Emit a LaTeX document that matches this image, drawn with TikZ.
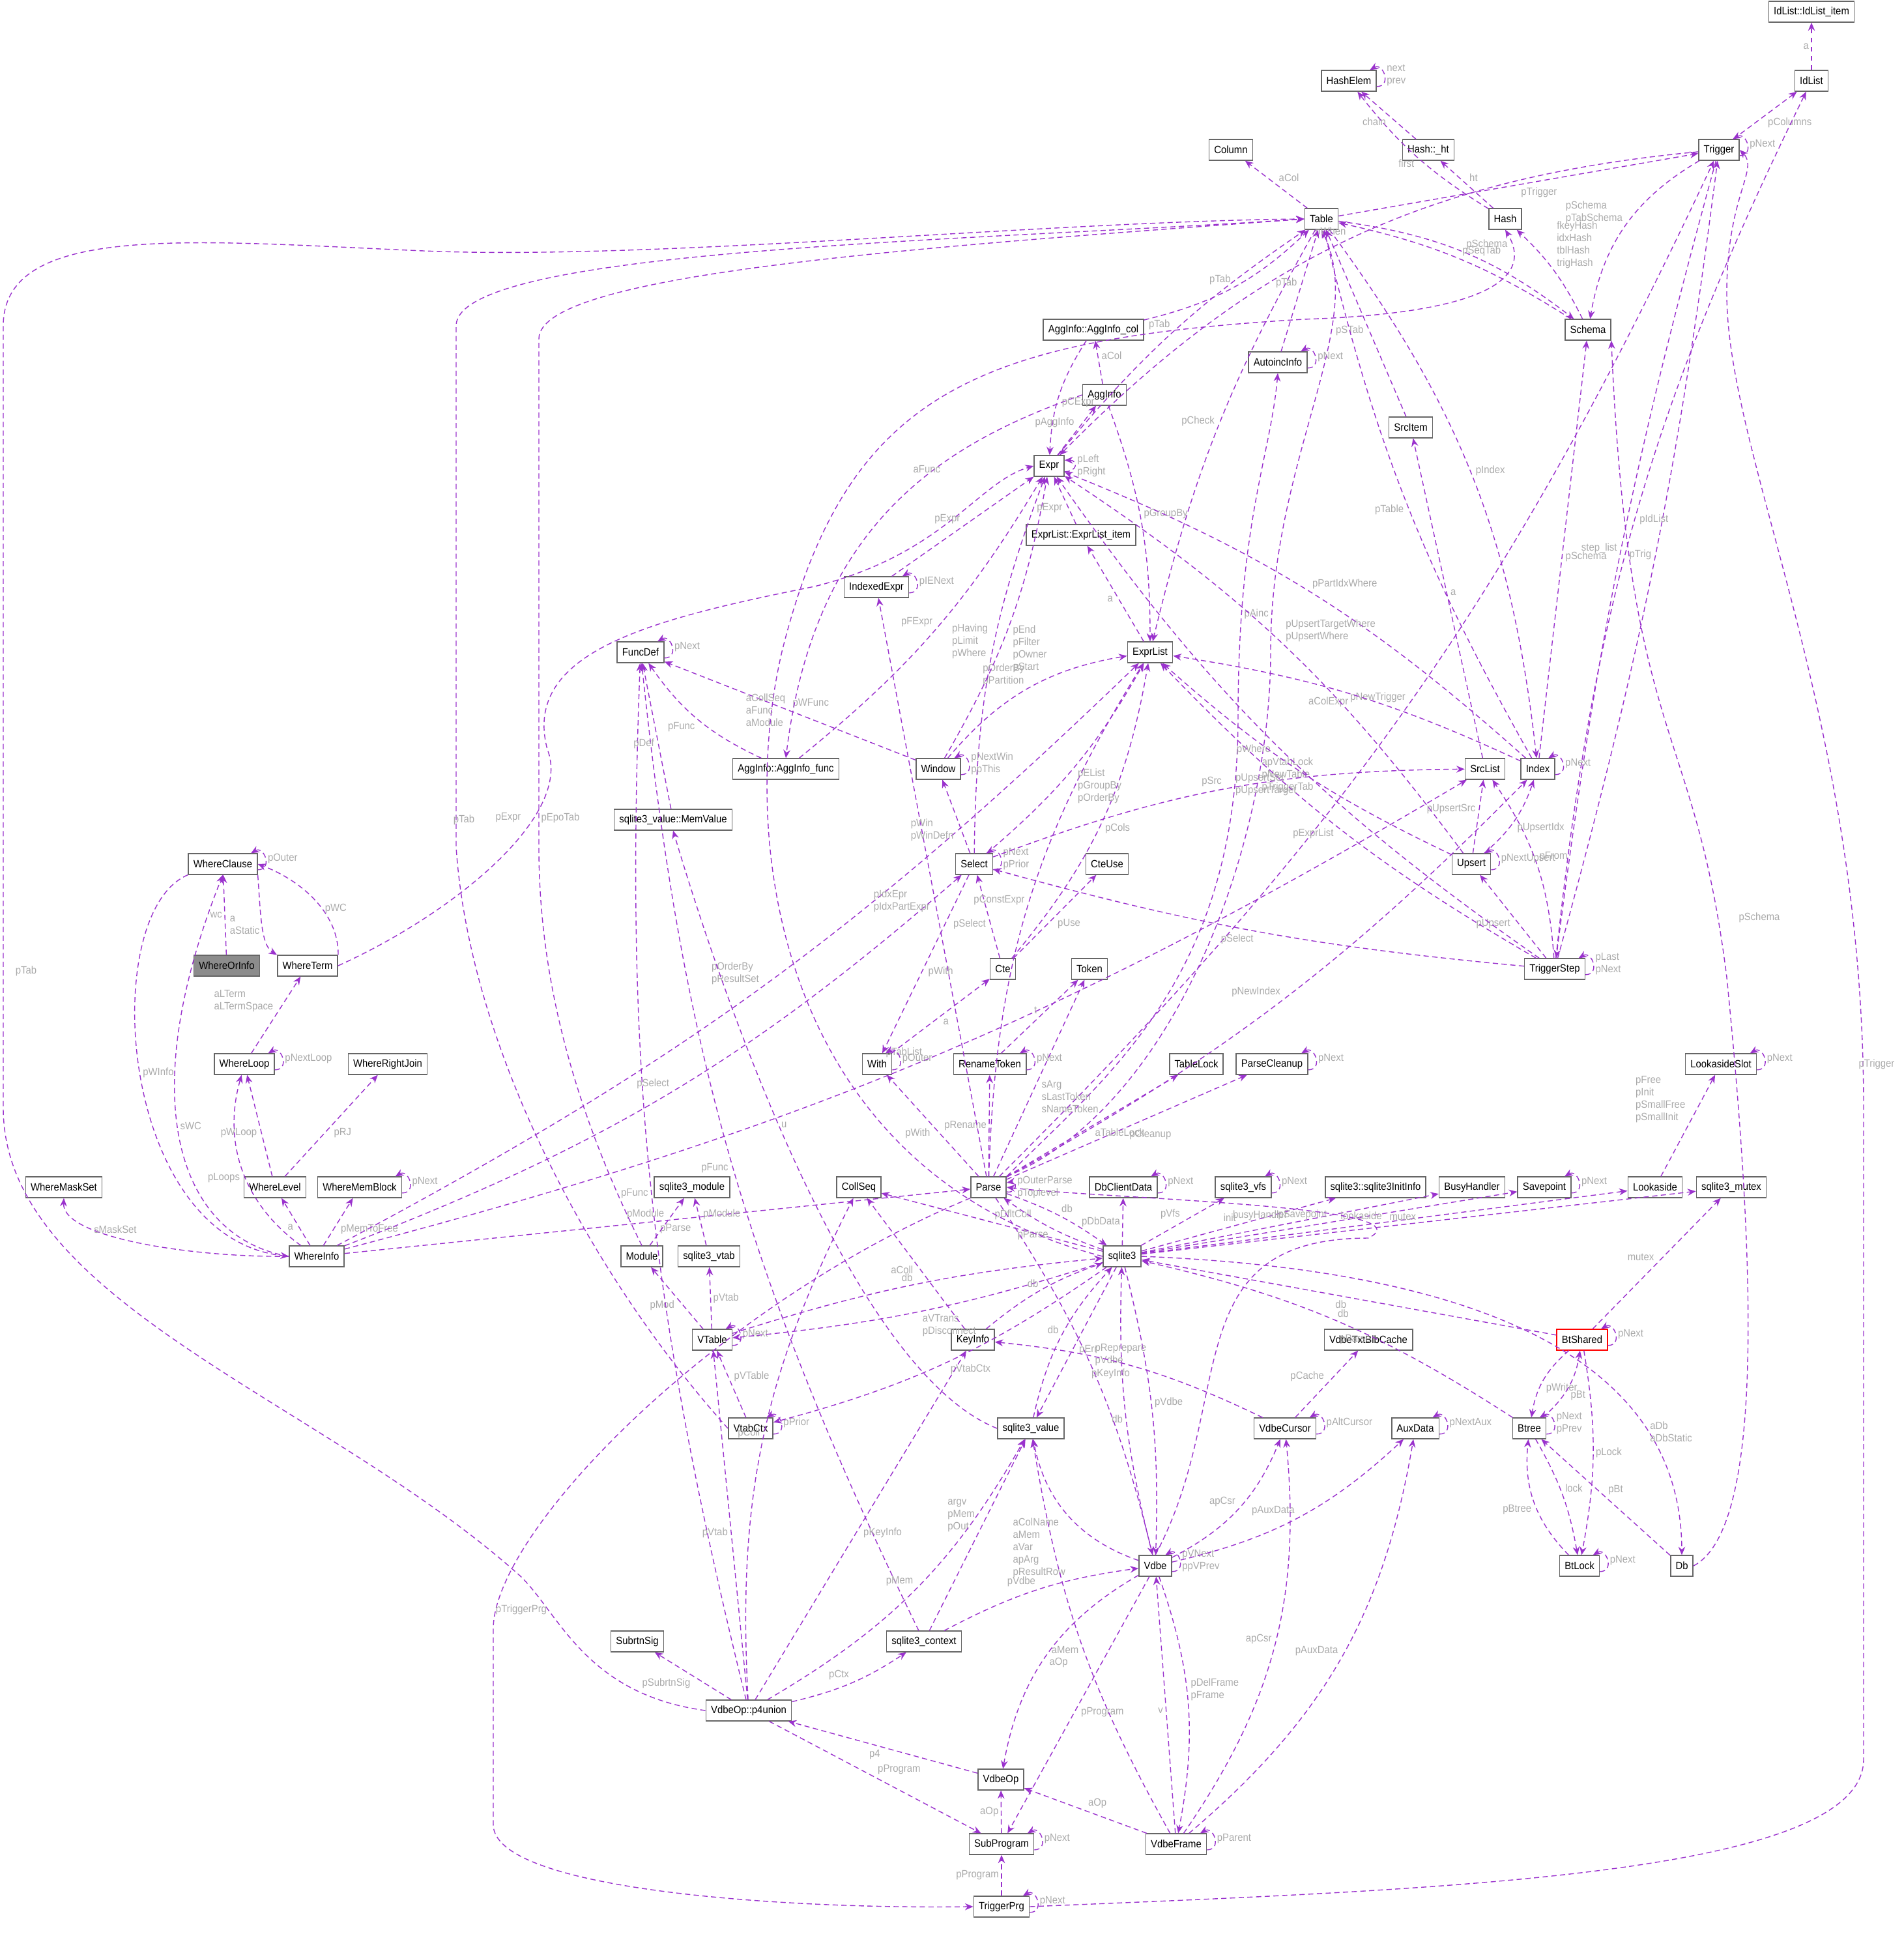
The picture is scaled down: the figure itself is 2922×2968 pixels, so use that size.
\documentclass[tikz,border=0pt]{standalone}
\usepackage{fontspec}
\setmainfont[FakeStretch=0.92]{Liberation Sans}
\usetikzlibrary{arrows.meta}
\definecolor{dc}{RGB}{154,50,205}
\definecolor{lc}{RGB}{170,170,170}
\newcommand\nf{\fontsize{4.6}{5.4}\selectfont}
\tikzset{
 n/.style={draw=black!60,line width=0.45pt,fill=white,font=\nf,inner xsep=2.2pt,inner ysep=0pt,minimum height=9pt},
 e/.style={draw=dc,line width=0.4pt,dash pattern=on 2.3pt off 1.5pt,-{Stealth[length=3.6pt,width=3pt]}},
 l/.style={font=\nf,text=lc,inner sep=1pt,align=left}
}
\newcommand\E[4][]{\draw[e,#1] (#2) to node[l,auto,pos=0.5]{#4} (#3);}
\newcommand\SL[2]{\draw[e] ([yshift=-2.5pt]#1.east) to[out=0,in=30,looseness=2.2] node[l,right]{#2} ([xshift=-3pt]#1.north east);}
\begin{document}
\begin{tikzpicture}[x=0.01cm,y=-0.01cm]
\useasboundingbox (0,0) rectangle (2922,2968);
% nodes
\node[n] (iii) at (2780,18) {IdList::IdList\_item};
\node[n] (IdList) at (2780,124) {IdList};
\node[n] (HashElem) at (2070,124) {HashElem};
\node[n] (hht) at (2192,230) {Hash::\_ht};
\node[n] (Column) at (1889,230) {Column};
\node[n] (Trigger) at (2638,230) {Trigger};
\node[n] (Table) at (2028,336) {Table};
\node[n] (Hash) at (2310,336) {Hash};
\node[n] (Schema) at (2437,506) {Schema};
\node[n] (aic) at (1678,506) {AggInfo::AggInfo\_col};
\node[n] (Autoinc) at (1961,556) {AutoincInfo};
\node[n] (AggInfo) at (1695,606) {AggInfo};
\node[n] (SrcItem) at (2165,656) {SrcItem};
\node[n] (Expr) at (1610,715) {Expr};
\node[n] (eli) at (1659,821) {ExprList::ExprList\_item};
\node[n] (IndexedExpr) at (1345,901) {IndexedExpr};
\node[n] (FuncDef) at (983,1001) {FuncDef};
\node[n] (ExprList) at (1765,1001) {ExprList};
\node[n] (Window) at (1440,1180) {Window};
\node[n] (aif) at (1206,1180) {AggInfo::AggInfo\_func};
\node[n] (SrcList) at (2279,1180) {SrcList};
\node[n] (Index) at (2360,1180) {Index};
\node[n] (mv) at (1033,1258) {sqlite3\_value::MemValue};
\node[n] (Select) at (1495,1326) {Select};
\node[n] (Upsert) at (2258,1326) {Upsert};
\node[n] (WhereClause) at (342,1326) {WhereClause};
\node[n] (CteUse) at (1699,1326) {CteUse};
\node[n,fill=black!45] (WhereOrInfo) at (348,1482) {WhereOrInfo};
\node[n] (WhereTerm) at (472,1482) {WhereTerm};
\node[n] (Cte) at (1539,1487) {Cte};
\node[n] (Token) at (1672,1487) {Token};
\node[n] (TriggerStep) at (2386,1487) {TriggerStep};
\node[n] (WhereLoop) at (375,1633) {WhereLoop};
\node[n] (WhereRightJoin) at (595,1633) {WhereRightJoin};
\node[n] (With) at (1346,1633) {With};
\node[n] (RenameToken) at (1519,1633) {RenameToken};
\node[n] (TableLock) at (1836,1633) {TableLock};
\node[n] (ParseCleanup) at (1952,1633) {ParseCleanup};
\node[n] (LookasideSlot) at (2641,1633) {LookasideSlot};
\node[n] (WhereMaskSet) at (98,1822) {WhereMaskSet};
\node[n] (WhereLevel) at (422,1822) {WhereLevel};
\node[n] (WhereMemBlock) at (552,1822) {WhereMemBlock};
\node[n] (smod) at (1062,1822) {sqlite3\_module};
\node[n] (CollSeq) at (1318,1822) {CollSeq};
\node[n] (Parse) at (1517,1822) {Parse};
\node[n] (DbClientData) at (1724,1822) {DbClientData};
\node[n] (vfs) at (1908,1822) {sqlite3\_vfs};
\node[n] (ii) at (2111,1822) {sqlite3::sqlite3InitInfo};
\node[n] (BusyHandler) at (2259,1822) {BusyHandler};
\node[n] (Savepoint) at (2370,1822) {Savepoint};
\node[n] (Lookaside) at (2540,1822) {Lookaside};
\node[n] (mutex) at (2657,1822) {sqlite3\_mutex};
\node[n] (WhereInfo) at (486,1928) {WhereInfo};
\node[n] (Module) at (985,1928) {Module};
\node[n] (svtab) at (1088,1928) {sqlite3\_vtab};
\node[n] (sqlite3) at (1722,1928) {sqlite3};
\node[n] (VTable) at (1093,2056) {VTable};
\node[n] (KeyInfo) at (1493,2056) {KeyInfo};
\node[n] (vtbc) at (2100,2056) {VdbeTxtBlbCache};
\node[n,draw=red] (BtShared) at (2428,2056) {BtShared};
\node[n] (VtabCtx) at (1152,2192) {VtabCtx};
\node[n] (svalue) at (1582,2192) {sqlite3\_value};
\node[n] (VdbeCursor) at (1972,2192) {VdbeCursor};
\node[n] (AuxData) at (2172,2192) {AuxData};
\node[n] (Btree) at (2347,2192) {Btree};
\node[n] (Vdbe) at (1773,2403) {Vdbe};
\node[n] (BtLock) at (2424,2403) {BtLock};
\node[n] (Db) at (2581,2403) {Db};
\node[n] (SubrtnSig) at (978,2519) {SubrtnSig};
\node[n] (sctx) at (1418,2519) {sqlite3\_context};
\node[n] (p4) at (1149,2625) {VdbeOp::p4union};
\node[n] (VdbeOp) at (1536,2731) {VdbeOp};
\node[n] (SubProgram) at (1537,2830) {SubProgram};
\node[n] (VdbeFrame) at (1805,2830) {VdbeFrame};
\node[n] (TriggerPrg) at (1537,2926) {TriggerPrg};
% edges
\E{WhereOrInfo}{WhereClause}{wc}
\SL{WhereClause}{pOuter}
\draw[e] (WhereClause.south east) .. controls (400,1400) and (400,1450) .. node[l,left,pos=0.5]{a\\aStatic} (WhereTerm.north west);
\draw[e] (WhereTerm.north east) .. controls (520,1400) and (460,1350) .. node[l,right,pos=0.4]{pWC} (WhereClause.east);
\draw[e] (WhereTerm.east) .. controls (700,1400) and (880,1250) .. (840,1150) .. controls (800,1000) and (1000,950) .. (1250,900) .. controls (1450,850) and (1500,740) .. (Expr.west);
\node[l] (lx1) at (780,1255) {pExpr};
\E{WhereLoop}{WhereTerm}{aLTerm\\aLTermSpace}
\SL{WhereLoop}{pNextLoop}
\E{WhereLevel}{WhereLoop}{pWLoop}
\E[swap]{WhereLevel}{WhereRightJoin}{pRJ}
\E[bend left=35]{WhereInfo}{WhereLoop}{pLoops}
\E{WhereInfo}{WhereLevel}{a}
\E[swap]{WhereInfo}{WhereMemBlock}{pMemToFree}
\SL{WhereMemBlock}{pNext}
\draw[e] (WhereInfo.west) .. controls (300,1930) and (95,1900) .. node[l,above,pos=0.6]{sMaskSet} (WhereMaskSet.south);
\draw[e] (WhereInfo.west) .. controls (280,1900) and (200,1700) .. node[l,right,pos=0.55]{sWC} (WhereClause.south);
\draw[e] (WhereClause.south west) .. controls (150,1400) and (180,1900) .. node[l,right,pos=0.5]{pWInfo} (WhereInfo.west);
\E[swap]{WhereInfo}{Parse}{pParse}
\E[bend right=10]{WhereInfo}{Select}{pSelect}
\E[bend right=8]{WhereInfo}{ExprList}{pOrderBy\\pResultSet}
\E[bend right=8]{WhereInfo}{SrcList}{pTabList}
\E{Module}{smod}{pModule}
\E[swap]{svtab}{smod}{pModule}
\draw[e] (Module.north) .. controls (880,1700) and (827,1500) .. (827,1300) -- (827,520) .. controls (827,420) and (1400,380) .. (Table.west);
\node[l] (lx2) at (860,1255) {pEpoTab};
\E{VTable}{Module}{pMod}
\E[swap]{VTable}{svtab}{pVtab}
\SL{VTable}{pNext}
\E[bend left=6]{VTable}{sqlite3}{db}
\E[swap]{VtabCtx}{VTable}{pVTable}
\SL{VtabCtx}{pPrior}
\draw[e] (VtabCtx.west) .. controls (900,1950) and (720,1600) .. (700,1300) -- (700,500) .. controls (700,380) and (1500,370) .. (Table.west);
\node[l] (lx3) at (712,1258) {pTab};
\E[bend left=6]{sqlite3}{VTable}{aVTrans\\pDisconnect}
\E[bend left=10]{sqlite3}{VtabCtx}{pVtabCtx}
\E[swap]{sqlite3}{CollSeq}{pDfltColl}
\E{KeyInfo}{CollSeq}{aColl}
\E[bend left=10]{KeyInfo}{sqlite3}{db}
\E[bend left=8]{sqlite3}{Parse}{pParse}
\E[bend left=8]{Parse}{sqlite3}{db}
\E{sqlite3}{DbClientData}{pDbData}
\SL{DbClientData}{pNext}
\E{sqlite3}{vfs}{pVfs}
\SL{vfs}{pNext}
\E{sqlite3}{ii}{init}
\E{sqlite3}{BusyHandler}{busyHandler}
\E{sqlite3}{Savepoint}{pSavepoint}
\SL{Savepoint}{pNext}
\E{sqlite3}{Lookaside}{lookaside}
\E{Lookaside}{LookasideSlot}{pFree\\pInit\\pSmallFree\\pSmallInit}
\SL{LookasideSlot}{pNext}
\E{sqlite3}{mutex}{mutex}
\E{BtShared}{mutex}{mutex}
\E{BtShared}{sqlite3}{db}
\SL{BtShared}{pNext}
\E[bend right=20]{BtShared}{Btree}{pWriter}
\E[bend right=20,swap]{Btree}{BtShared}{pBt}
\SL{Btree}{pNext\\pPrev}
\E[bend right=10,swap]{Btree}{sqlite3}{db}
\E[bend left=10]{Btree}{BtLock}{lock}
\E[bend left=10]{BtShared}{BtLock}{pLock}
\E[bend left=25]{BtLock}{Btree}{pBtree}
\SL{BtLock}{pNext}
\E[swap]{Db}{Btree}{pBt}
\draw[e] (Db.east) .. controls (2700,2350) and (2700,2000) .. (2650,1500) .. controls (2600,1100) and (2500,1150) .. (Schema.south east);
\node[l] (lx4) at (2700,1408) {pSchema};
\draw[e] (sqlite3.east) .. controls (2300,1950) and (2580,2100) .. node[l,right,pos=0.75]{aDb\\aDbStatic} (Db.north);
\E[bend left=8]{Vdbe}{sqlite3}{db}
\E[bend left=8]{sqlite3}{Vdbe}{pVdbe}
\SL{Vdbe}{pVNext\\ppVPrev}
\E[bend left=10]{Parse}{Vdbe}{pReprepare\\pVdbe}
\draw[e] (Vdbe.north) .. controls (1900,2150) and (1800,1900) .. (2100,1900) .. controls (2200,1850) and (1700,1840) .. (Parse.east);
\node[l] (lx5) at (2080,2056) {pParse};
\E[bend left=15]{svalue}{sqlite3}{db}
\E{sqlite3}{svalue}{pErr}
\draw[e] (svalue.west) .. controls (1300,2100) and (1100,1500) .. node[l,right,pos=0.55]{u} (mv.south);
\E[bend left=30]{Vdbe}{svalue}{aColName\\aMem\\aVar\\apArg\\pResultRow}
\E[bend right=20]{Vdbe}{VdbeCursor}{apCsr}
\SL{VdbeCursor}{pAltCursor}
\E{VdbeCursor}{vtbc}{pCache}
\E[bend right=10]{VdbeCursor}{KeyInfo}{pKeyInfo}
\E[bend right=15]{Vdbe}{AuxData}{pAuxData}
\SL{AuxData}{pNextAux}
\E[bend right=25]{Vdbe}{VdbeOp}{aOp}
\E{Vdbe}{SubProgram}{pProgram}
\E{VdbeFrame}{Vdbe}{v}
\E[bend left=15]{Vdbe}{VdbeFrame}{pDelFrame\\pFrame}
\SL{VdbeFrame}{pParent}
\E[swap]{VdbeFrame}{VdbeOp}{aOp}
\E[bend left=10]{VdbeFrame}{svalue}{aMem}
\E[bend right=20]{VdbeFrame}{VdbeCursor}{apCsr}
\E[bend right=20]{VdbeFrame}{AuxData}{pAuxData}
\E[bend left=10]{sctx}{Vdbe}{pVdbe}
\E{sctx}{svalue}{argv\\pMem\\pOut}
\E[bend left=10]{sctx}{FuncDef}{pFunc}
\E[bend right=10]{p4}{sctx}{pCtx}
\E{p4}{SubrtnSig}{pSubrtnSig}
\E[swap]{p4}{KeyInfo}{pKeyInfo}
\E[bend right=15]{p4}{svalue}{pMem}
\E{p4}{VTable}{pVtab}
\E[bend left=15]{p4}{CollSeq}{pColl}
\E[bend left=8]{p4}{FuncDef}{pFunc}
\draw[e] (p4.west) .. controls (900,2600) and (860,2480) .. (800,2420) .. controls (500,2150) and (5,2000) .. (5,1700) -- (5,500) .. controls (5,340) and (300,370) .. (650,385) .. controls (1000,400) and (1600,340) .. (Table.west);
\node[l] (lx6) at (40,1490) {pTab};
\E{p4}{SubProgram}{pProgram}
\E{VdbeOp}{p4}{p4}
\E{SubProgram}{VdbeOp}{aOp}
\SL{SubProgram}{pNext}
\E{TriggerPrg}{SubProgram}{pProgram}
\SL{TriggerPrg}{pNext}
\draw[e] (TriggerPrg.east) .. controls (2200,2900) and (2860,2880) .. (2860,2700) -- (2860,1700) .. controls (2860,1100) and (2650,700) .. (2650,450) .. controls (2650,300) and (2700,260) .. (Trigger.east);
\node[l] (lx7) at (2880,1633) {pTrigger};
\draw[e] (Parse.south west) .. controls (1100,2000) and (757,2350) .. (757,2500) -- (757,2800) .. controls (757,2900) and (1200,2930) .. (TriggerPrg.west);
\node[l] (lx8) at (800,2470) {pTriggerPrg};
\draw[e] ([yshift=-2pt]Parse.east) to[out=-10,in=10,looseness=3] node[l,right]{pOuterParse\\pToplevel} ([yshift=2pt]Parse.east);
\draw[e] (Parse.north east) .. controls (1800,1700) and (1950,1300) .. node[l,right,pos=0.8]{apVtabLock\\pNewTable\\pTriggerTab} (1950,1000) .. controls (1950,700) and (2100,500) .. (Table.south);
\E[bend right=10]{Parse}{Trigger}{pNewTrigger}
\E[bend right=8]{Parse}{Index}{pNewIndex}
\draw[e] (Parse.north east) .. controls (1700,1650) and (1900,1500) .. (1900,1100) .. controls (1900,800) and (1950,700) .. node[l,right,pos=0.2]{pAinc} (Autoinc.south);
\E[swap]{Parse}{ParseCleanup}{pCleanup}
\SL{ParseCleanup}{pNext}
\E[swap]{Parse}{TableLock}{aTableLock}
\E[swap]{Parse}{Token}{sArg\\sLastToken\\sNameToken}
\E{Parse}{RenameToken}{pRename}
\SL{RenameToken}{pNext}
\E{RenameToken}{Token}{t}
\E{Parse}{With}{pWith}
\SL{With}{pOuter}
\E[swap]{With}{Cte}{a}
\E{Cte}{Select}{pSelect}
\E[bend right=15,swap]{Cte}{ExprList}{pCols}
\E[swap]{Cte}{CteUse}{pUse}
\E{Parse}{IndexedExpr}{pIdxEpr\\pIdxPartExpr}
\SL{IndexedExpr}{pIENext}
\E{IndexedExpr}{Expr}{pExpr}
\E[bend left=15]{Parse}{ExprList}{pConstExpr}
\SL{Select}{pNext\\pPrior}
\E{Select}{With}{pWith}
\E{Select}{Window}{pWin\\pWinDefn}
\E[bend left=10]{Select}{SrcList}{pSrc}
\E[bend right=10,swap]{Select}{ExprList}{pEList\\pGroupBy\\pOrderBy}
\E[bend left=10]{Select}{Expr}{pHaving\\pLimit\\pWhere}
\SL{Window}{pNextWin\\ppThis}
\E[bend left=20]{Window}{ExprList}{pOrderBy\\pPartition}
\E[bend right=10,swap]{Window}{Expr}{pEnd\\pFilter\\pOwner\\pStart}
\E[swap]{Window}{FuncDef}{pWFunc}
\SL{FuncDef}{pNext}
\E{mv}{FuncDef}{pDef}
\E[bend left=15]{aif}{FuncDef}{pFunc}
\E[bend right=10]{aif}{Expr}{pFExpr}
\draw[e] (AggInfo.west) .. controls (1450,680) and (1250,800) .. node[l,above,pos=0.4]{aFunc} (aif.north);
\E[swap]{AggInfo}{aic}{aCol}
\E[bend right=15]{aic}{Table}{pTab}
\E[bend right=15]{aic}{Expr}{pCExpr}
\E[bend left=10]{AggInfo}{ExprList}{pGroupBy}
\E{Expr}{AggInfo}{pAggInfo}
\draw[e] ([yshift=-2.5pt]Expr.east) to[out=0,in=0,looseness=3] node[l,right]{pLeft\\pRight} ([yshift=2.5pt]Expr.east);
\E[bend left=8]{Expr}{Table}{pTab}
\E{eli}{Expr}{pExpr}
\E{ExprList}{eli}{a}
\E[swap]{Table}{Column}{aCol}
\E[swap]{Table}{Trigger}{pTrigger}
\E[bend left=15]{Table}{Schema}{pSchema}
\E[bend left=15]{Table}{Index}{pIndex}
\E[bend right=8,swap]{Table}{ExprList}{pCheck}
\SL{Trigger}{pNext}
\E[swap]{Trigger}{IdList}{pColumns}
\E[dash pattern=on 2pt off 2pt]{IdList}{iii}{a}
\E[bend right=25,swap]{Trigger}{Schema}{pSchema\\pTabSchema}
\E[bend right=20,swap]{Trigger}{Expr}{pWhen}
\E[bend right=4,swap]{Trigger}{TriggerStep}{step\_list}
\E[bend right=4]{TriggerStep}{Trigger}{pTrig}
\SL{TriggerStep}{pLast\\pNext}
\E[bend left=10,swap]{TriggerStep}{IdList}{pIdList}
\E{TriggerStep}{Upsert}{pUpsert}
\E[bend right=15,swap]{TriggerStep}{SrcList}{pFrom}
\E[bend left=5]{TriggerStep}{Select}{pSelect}
\E[bend left=8]{TriggerStep}{ExprList}{pExprList}
\E[bend left=10]{TriggerStep}{Expr}{pWhere}
\E[bend right=10,swap]{Schema}{Table}{pSeqTab}
\E[bend right=10,swap]{Schema}{Hash}{fkeyHash\\idxHash\\tblHash\\trigHash}
\E[bend left=10]{Hash}{HashElem}{first}
\E[swap]{Hash}{hht}{ht}
\E{hht}{HashElem}{chain}
\SL{HashElem}{next\\prev}
\E{Autoinc}{Table}{pTab}
\SL{Autoinc}{pNext}
\E{SrcItem}{Table}{pSTab}
\E[swap]{SrcList}{SrcItem}{a}
\E[bend left=8]{Index}{Table}{pTable}
\E[swap]{Index}{Schema}{pSchema}
\SL{Index}{pNext}
\E[bend right=10,swap]{Index}{Expr}{pPartIdxWhere}
\E[bend right=8]{Index}{ExprList}{aColExpr}
\E[bend right=15,swap]{Upsert}{Index}{pUpsertIdx}
\E{Upsert}{SrcList}{pUpsertSrc}
\SL{Upsert}{pNextUpsert}
\E[bend left=8]{Upsert}{ExprList}{pUpsertSet\\pUpsertTarget}
\E[bend right=10,swap]{Upsert}{Expr}{pUpsertTargetWhere\\pUpsertWhere}
\draw[e] (sqlite3.west) .. controls (1200,1800) and (1130,1300) .. (1200,1000) .. controls (1300,600) and (1500,520) .. (2000,490) .. controls (2300,480) and (2350,420) .. (Hash.south);
\node[l] (lx9) at (1175,1090) {aCollSeq\\aFunc\\aModule};
\end{tikzpicture}
\end{document}
